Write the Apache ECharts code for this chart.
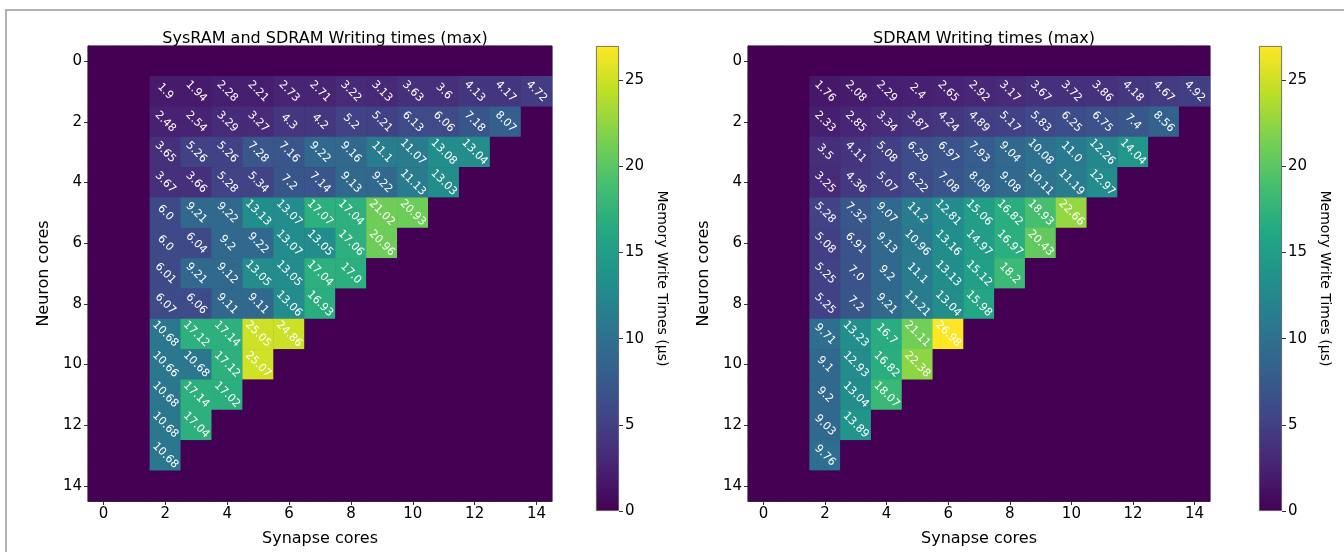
<!DOCTYPE html>
<html>
<head>
  <meta charset="utf-8">
  <script src="https://cdn.jsdelivr.net/npm/echarts@6/dist/echarts.min.js"></script>
  <style>
    html, body { margin: 0; padding: 0; background: #fff; }
    #main { width: 1344px; height: 552px; }
  </style>
</head>
<body>
  <div id="main"></div>
  <script type="text/javascript">
    // axis categories (0..14 cores on both axes)
    var coreLabels = ['0', '1', '2', '3', '4', '5', '6', '7', '8', '9', '10', '11', '12', '13', '14'];
    var colorbarTicks = [0, 5, 10, 15, 20, 25];
    var colorMax = 26.98;

    // rows are neuron cores 1..13, each row starts at synapse core 2
    var sysramTimes = [
      [1.9, 1.94, 2.28, 2.21, 2.73, 2.71, 3.22, 3.13, 3.63, 3.6, 4.13, 4.17, 4.72],
      [2.48, 2.54, 3.29, 3.27, 4.3, 4.2, 5.2, 5.21, 6.13, 6.06, 7.18, 8.07],
      [3.65, 5.26, 5.26, 7.28, 7.16, 9.22, 9.16, 11.1, 11.07, 13.08, 13.04],
      [3.67, 3.66, 5.28, 5.34, 7.2, 7.14, 9.13, 9.22, 11.13, 13.03],
      [6.0, 9.21, 9.22, 13.13, 13.07, 17.07, 17.04, 21.02, 20.93],
      [6.0, 6.04, 9.2, 9.22, 13.07, 13.05, 17.06, 20.96],
      [6.01, 9.21, 9.12, 13.05, 13.05, 17.04, 17.0],
      [6.07, 6.06, 9.11, 9.11, 13.06, 16.93],
      [10.68, 17.12, 17.14, 25.05, 24.86],
      [10.66, 10.68, 17.12, 25.07],
      [10.68, 17.14, 17.02],
      [10.68, 17.04],
      [10.68]
    ];

    var sdramTimes = [
      [1.76, 2.08, 2.29, 2.4, 2.65, 2.92, 3.17, 3.67, 3.72, 3.86, 4.18, 4.67, 4.92],
      [2.33, 2.85, 3.34, 3.87, 4.24, 4.89, 5.17, 5.83, 6.25, 6.75, 7.4, 8.56],
      [3.5, 4.11, 5.08, 6.29, 6.97, 7.93, 9.04, 10.08, 11.0, 12.26, 14.04],
      [3.25, 4.36, 5.07, 6.22, 7.08, 8.08, 9.08, 10.11, 11.19, 12.97],
      [5.28, 7.32, 9.07, 11.2, 12.81, 15.06, 16.82, 18.93, 22.66],
      [5.08, 6.91, 9.13, 10.96, 13.16, 14.97, 16.97, 20.43],
      [5.25, 7.0, 9.2, 11.1, 13.13, 15.12, 18.2],
      [5.25, 7.2, 9.21, 11.21, 13.04, 15.98],
      [9.71, 13.23, 16.7, 21.11, 26.98],
      [9.1, 12.93, 16.82, 22.38],
      [9.2, 13.04, 18.07],
      [9.03, 13.89],
      [9.76]
    ];

    var viridis = ['#440154', '#482475', '#414487', '#355f8d', '#2a788e', '#21918c',
      '#22a884', '#44bf70', '#7ad151', '#bddf26', '#fde725'];

    var font = 'DejaVu Sans';

    // full 15x15 grid, empty cells are 0
    function buildCells(rows) {
      var out = [];
      for (var y = 0; y < coreLabels.length; y++) {
        for (var x = 0; x < coreLabels.length; x++) {
          var row = rows[y - 1];
          var v = 0;
          if (row && x >= 2 && x - 2 < row.length) v = row[x - 2];
          out.push([x, y, v]);
        }
      }
      return out;
    }

    // python style float text (6.0 not 6)
    function fmt(v) {
      return Number.isInteger(v) ? v.toFixed(1) : String(v);
    }

    function heatXAxis(grid) {
      return {
        gridIndex: grid, type: 'category', data: coreLabels,
        name: 'Synapse cores', nameLocation: 'middle', nameGap: 30,
        nameTextStyle: { fontFamily: font, fontSize: 16, color: '#000' },
        axisLine: { show: true, lineStyle: { color: '#333', width: 1 } },
        axisTick: { show: true, interval: 1, alignWithLabel: true, length: 4, lineStyle: { color: '#333' } },
        axisLabel: { interval: 1, fontFamily: font, fontSize: 15, color: '#000', margin: 6 },
        splitLine: { show: false }
      };
    }
    function heatYAxis(grid) {
      return {
        gridIndex: grid, type: 'category', data: coreLabels, inverse: true,
        name: 'Neuron cores', nameLocation: 'middle', nameGap: 36,
        nameTextStyle: { fontFamily: font, fontSize: 16, color: '#000' },
        axisLine: { show: true, lineStyle: { color: '#333', width: 1 } },
        axisTick: { show: true, interval: 1, alignWithLabel: true, length: 4, lineStyle: { color: '#333' } },
        axisLabel: { interval: 1, fontFamily: font, fontSize: 15, color: '#000', margin: 6 },
        splitLine: { show: false }
      };
    }
    function barXAxis(grid) {
      return { gridIndex: grid, type: 'category', data: [''], show: false };
    }
    function barYAxis(grid) {
      return {
        gridIndex: grid, type: 'value', min: 0, max: colorMax, position: 'right',
        name: 'Memory Write Times (\u03bcs)', nameLocation: 'middle', nameGap: 36, nameRotate: -90,
        nameTextStyle: { fontFamily: font, fontSize: 14, color: '#000' },
        axisLine: { show: false },
        axisTick: { show: true, length: 4, lineStyle: { color: '#333' }, customValues: colorbarTicks },
        axisLabel: { fontFamily: font, fontSize: 15, color: '#000', margin: 6, customValues: colorbarTicks },
        splitLine: { show: false }
      };
    }

    var gradient = {
      type: 'linear', x: 0, y: 1, x2: 0, y2: 0,
      colorStops: viridis.map(function (c, i) { return { offset: i / (viridis.length - 1), color: c }; })
    };

    function heatSeries(idx, rows) {
      return {
        type: 'heatmap', xAxisIndex: idx, yAxisIndex: idx,
        data: buildCells(rows),
        label: {
          show: true, rotate: -45, color: '#fff', fontFamily: font, fontSize: 11,
          formatter: function (p) { return p.value[2] > 0 ? fmt(p.value[2]) : ''; }
        },
        emphasis: { disabled: true }
      };
    }
    function barSeries(idx) {
      return {
        type: 'bar', xAxisIndex: idx, yAxisIndex: idx, barWidth: '100%',
        data: [colorMax], silent: true,
        itemStyle: { color: gradient, borderColor: '#555', borderWidth: 0.8 }
      };
    }

    var myChart = echarts.init(document.getElementById('main'));
    var option = {
      animation: false,
      backgroundColor: '#fff',
      title: [
        { text: 'SysRAM and SDRAM Writing times (max)', left: 320, top: 26, textAlign: 'center',
          textStyle: { fontFamily: font, fontSize: 16, fontWeight: 'normal', color: '#000' } },
        { text: 'SDRAM Writing times (max)', left: 979, top: 26, textAlign: 'center',
          textStyle: { fontFamily: font, fontSize: 16, fontWeight: 'normal', color: '#000' } }
      ],
      grid: [
        { left: 88, top: 46, width: 464, height: 465, show: true, backgroundColor: '#440154', borderColor: '#333', borderWidth: 1 },
        { left: 748, top: 46, width: 462, height: 465, show: true, backgroundColor: '#440154', borderColor: '#333', borderWidth: 1 },
        { left: 596, top: 46, width: 23, height: 465 },
        { left: 1259, top: 46, width: 23, height: 465 }
      ],
      xAxis: [heatXAxis(0), heatXAxis(1), barXAxis(2), barXAxis(3)],
      yAxis: [heatYAxis(0), heatYAxis(1), barYAxis(2), barYAxis(3)],
      visualMap: {
        show: false, type: 'continuous', min: 0, max: colorMax, dimension: 2,
        seriesIndex: [0, 1], inRange: { color: viridis }
      },
      series: [heatSeries(0, sysramTimes), heatSeries(1, sdramTimes), barSeries(2), barSeries(3)],
      graphic: [{
        type: 'polyline', silent: true,
        shape: { points: [[6, 552], [6, 10], [1344, 10]] },
        style: { stroke: '#999', lineWidth: 1.5, fill: null }
      }]
    };
    myChart.setOption(option);
  </script>
</body>
</html>
